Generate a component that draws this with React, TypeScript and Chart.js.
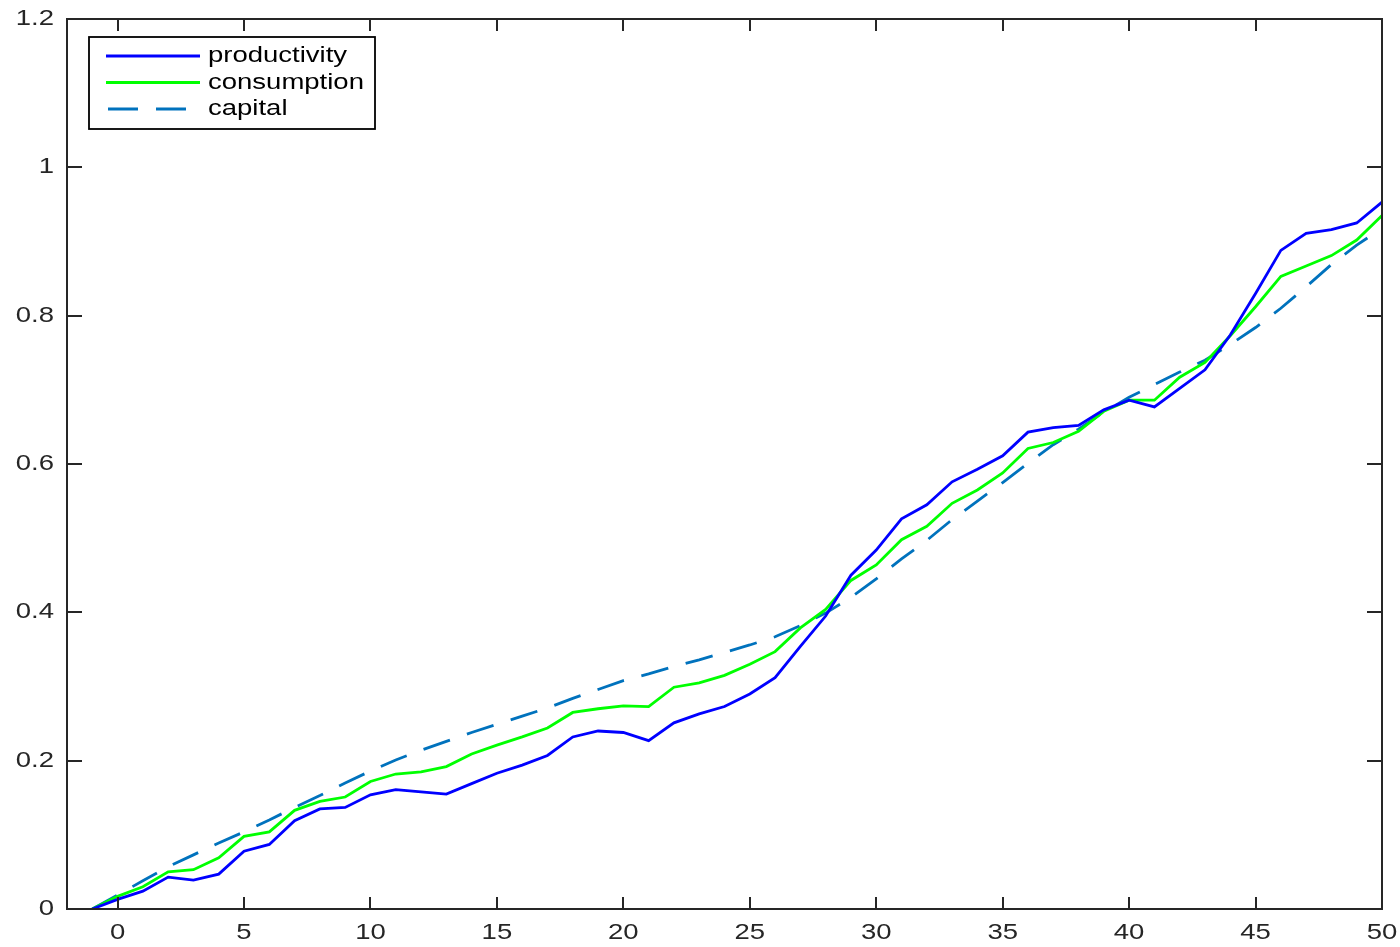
import React, { useEffect, useRef } from "react";
import { Chart, registerables } from "chart.js";

Chart.register(...registerables);

const periods = [-1, 0, 1, 2, 3, 4, 5, 6, 7, 8, 9, 10, 11, 12, 13, 14, 15, 16, 17, 18, 19, 20, 21, 22, 23, 24, 25, 26, 27, 28, 29, 30, 31, 32, 33, 34, 35, 36, 37, 38, 39, 40, 41, 42, 43, 44, 45, 46, 47, 48, 49, 50];

const productivity = [0, 0.013, 0.024, 0.043, 0.039, 0.047, 0.078, 0.087, 0.119, 0.135, 0.137, 0.154, 0.161, 0.158, 0.155, 0.169, 0.183, 0.194, 0.207, 0.232, 0.24, 0.238, 0.227, 0.251, 0.263, 0.273, 0.29, 0.312, 0.354, 0.395, 0.45, 0.484, 0.526, 0.545, 0.576, 0.593, 0.611, 0.643, 0.649, 0.652, 0.673, 0.686, 0.677, 0.702, 0.727, 0.774, 0.83, 0.888, 0.911, 0.916, 0.925, 0.953];

const consumption = [0, 0.017, 0.03, 0.05, 0.053, 0.069, 0.098, 0.104, 0.133, 0.145, 0.151, 0.172, 0.182, 0.185, 0.192, 0.209, 0.221, 0.232, 0.244, 0.265, 0.27, 0.274, 0.273, 0.299, 0.305, 0.315, 0.33, 0.347, 0.379, 0.404, 0.443, 0.464, 0.498, 0.516, 0.547, 0.565, 0.588, 0.621, 0.629, 0.644, 0.671, 0.686, 0.686, 0.717, 0.737, 0.773, 0.812, 0.853, 0.867, 0.881, 0.902, 0.935];

const capital = [0, 0.019, 0.038, 0.057, 0.073, 0.089, 0.104, 0.12, 0.137, 0.153, 0.17, 0.186, 0.201, 0.214, 0.226, 0.238, 0.249, 0.26, 0.271, 0.284, 0.296, 0.308, 0.317, 0.327, 0.336, 0.346, 0.356, 0.367, 0.382, 0.399, 0.42, 0.445, 0.472, 0.497, 0.525, 0.55, 0.575, 0.601, 0.626, 0.647, 0.67, 0.69, 0.707, 0.724, 0.74, 0.761, 0.784, 0.81, 0.839, 0.869, 0.895, 0.918];

const xTicks = [0, 5, 10, 15, 20, 25, 30, 35, 40, 45, 50];
const yTicks = [0, 0.2, 0.4, 0.6, 0.8, 1, 1.2];
const xTickLabels = ["0", "5", "10", "15", "20", "25", "30", "35", "40", "45", "50"];
const yTickLabels = ["0", "0.2", "0.4", "0.6", "0.8", "1", "1.2"];
const seriesNames = ["productivity", "consumption", "capital"];
const seriesColors = ["#0000ff", "#00ff00", "#0072bd"];

const FONT = "'Liberation Sans', Arial, Helvetica, sans-serif";
const AXIS_COLOR = "#262626";
const DASH = [28, 18];
const TEXT_STRETCH = 1.25;

function stretchedText(ctx: any, text: string, x: number, y: number, align: string) {
  ctx.save();
  ctx.translate(x, y);
  ctx.scale(TEXT_STRETCH, 1);
  ctx.textAlign = align;
  ctx.textBaseline = "middle";
  ctx.fillText(text, 0, 0);
  ctx.restore();
}

const framePlugin = {
  id: "matlabFrame",
  afterDraw(chart: any) {
    const { ctx, chartArea } = chart;
    const { left, right, top, bottom } = chartArea;
    const xs = chart.scales.x;
    const ys = chart.scales.y;
    ctx.save();
    ctx.strokeStyle = AXIS_COLOR;
    ctx.lineWidth = 2;
    ctx.beginPath();
    xTicks.forEach((v) => {
      const px = Math.round(xs.getPixelForValue(v));
      ctx.moveTo(px, bottom);
      ctx.lineTo(px, bottom - 12);
      ctx.moveTo(px, top);
      ctx.lineTo(px, top + 12);
    });
    yTicks.forEach((v) => {
      const py = Math.round(ys.getPixelForValue(v));
      ctx.moveTo(left, py);
      ctx.lineTo(left + 15, py);
      ctx.moveTo(right, py);
      ctx.lineTo(right - 15, py);
    });
    ctx.stroke();
    ctx.strokeRect(left, top, right - left, bottom - top);

    // tick labels
    ctx.fillStyle = AXIS_COLOR;
    ctx.font = `22px ${FONT}`;
    xTicks.forEach((v, i) => {
      stretchedText(ctx, xTickLabels[i], xs.getPixelForValue(v), bottom + 24, "center");
    });
    yTicks.forEach((v, i) => {
      stretchedText(ctx, yTickLabels[i], left - 13, ys.getPixelForValue(v), "right");
    });

    // legend
    const lx = left + 22;
    const ly = top + 18;
    const lw = 286;
    const lh = 92;
    ctx.fillStyle = "#ffffff";
    ctx.fillRect(lx, ly, lw, lh);
    ctx.lineWidth = 1.8;
    ctx.strokeStyle = "#000000";
    ctx.strokeRect(lx, ly, lw, lh);
    ctx.font = `22px ${FONT}`;
    seriesNames.forEach((name, i) => {
      const y = ly + 19 + i * 26.5;
      ctx.save();
      ctx.strokeStyle = seriesColors[i];
      ctx.lineWidth = 2.8;
      if (i === 2) ctx.setLineDash([30, 18]);
      ctx.beginPath();
      ctx.moveTo(lx + (i === 2 ? 19 : 17), y);
      ctx.lineTo(lx + 111, y);
      ctx.stroke();
      ctx.restore();
      ctx.fillStyle = "#000000";
      stretchedText(ctx, name, lx + 119, y, "left");
    });
    ctx.restore();
  },
};

export default function App() {
  const canvasRef = useRef<HTMLCanvasElement | null>(null);

  useEffect(() => {
    if (!canvasRef.current) return;
    const values = [productivity, consumption, capital];
    const chart = new Chart(canvasRef.current, {
      type: "line",
      data: {
        datasets: values.map((arr, i) => ({
          label: seriesNames[i],
          data: periods.map((p, j) => ({ x: p, y: arr[j] })),
          borderColor: seriesColors[i],
          borderWidth: 2.8,
          borderDash: i === 2 ? DASH : [],
          pointRadius: 0,
          tension: 0,
          fill: false,
        })),
      },
      options: {
        animation: false,
        responsive: false,
        devicePixelRatio: 1,
        layout: { padding: { top: 19, right: 18, left: 0, bottom: 0 } },
        plugins: {
          legend: { display: false },
          tooltip: { enabled: false },
        },
        scales: {
          x: {
            type: "linear",
            min: -2,
            max: 50,
            grid: { display: false, drawTicks: false },
            border: { display: false },
            ticks: { display: false },
            afterFit: (s: any) => {
              s.height = 38;
            },
          },
          y: {
            type: "linear",
            min: 0,
            max: 1.2,
            grid: { display: false, drawTicks: false },
            border: { display: false },
            ticks: { display: false },
            afterFit: (s: any) => {
              s.width = 67;
            },
          },
        },
      },
      plugins: [framePlugin],
    });
    return () => chart.destroy();
  }, []);

  return (
    <div style={{ position: "fixed", left: 0, top: 0, width: 1400, height: 947, background: "#ffffff" }}>
      <canvas ref={canvasRef} width={1400} height={947} style={{ display: "block", width: 1400, height: 947 }} />
    </div>
  );
}
